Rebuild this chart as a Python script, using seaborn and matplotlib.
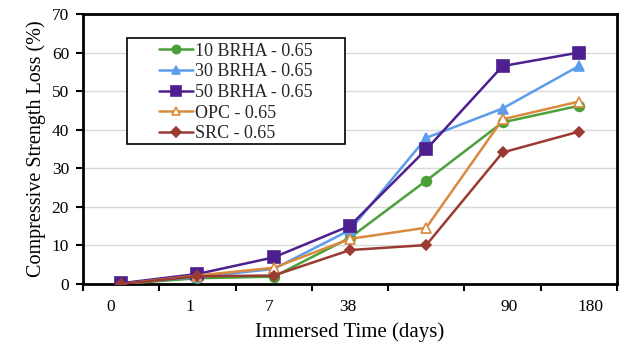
import matplotlib
matplotlib.use("Agg")
import matplotlib.pyplot as plt
import seaborn as sns
import pandas as pd
from matplotlib.patches import Rectangle

# ---- data ----
categories = ["0", "1", "7", "38", "56", "90", "180"]
tick_labels = ["0", "1", "7", "38", "", "90", "180"]
series_names = ["10 BRHA - 0.65", "30 BRHA - 0.65", "50 BRHA - 0.65", "OPC - 0.65", "SRC - 0.65"]
brha10 = [0.0, 1.5, 1.9, 12.0, 26.8, 41.9, 46.2]
brha30 = [0.2, 1.8, 3.9, 14.0, 37.9, 45.5, 56.5]
brha50 = [0.2, 2.6, 6.9, 15.1, 34.9, 56.5, 60.0]
opc = [0.0, 2.2, 4.2, 11.7, 14.6, 42.7, 47.3]
src = [0.0, 2.0, 2.2, 8.8, 10.1, 34.1, 39.5]

values = [brha10, brha30, brha50, opc, src]
colors = ["#4CA03A", "#5B9CEB", "#4E1F8E", "#D98A3D", "#9B3A33"]
markers = ["o", "^", "s", "^", "D"]
filled = [True, True, True, False, True]
msizes = [7, 7, 8, 7, 5.5]

rows = []
for name, vals in zip(series_names, values):
    for i, v in enumerate(vals):
        rows.append({"series": name, "pos": i, "loss": v})
df = pd.DataFrame(rows)

sns.set_theme(style="white")
plt.rcParams["font.family"] = ["Liberation Serif", "DejaVu Serif"]

fig = plt.figure(figsize=(6.29, 3.5), dpi=100)
ax = fig.add_axes([83 / 629, 1 - 284 / 350, (617 - 83) / 629, (284 - 14) / 350])

for name, c, m, f, ms in zip(series_names, colors, markers, filled, msizes):
    sub = df[df["series"] == name]
    sns.lineplot(data=sub, x="pos", y="loss", ax=ax, color=c, linewidth=1.8,
                 marker=m, markersize=ms, markeredgecolor=c,
                 markerfacecolor=(c if f else "white"), markeredgewidth=1.2,
                 label=name, zorder=3)

ax.set_xlim(-0.5, len(categories) - 0.5)
ax.set_ylim(0, 70)
ax.set_yticks(range(0, 71, 10))
ax.yaxis.grid(True, color="#D9D9D9", linewidth=1.0)
ax.set_axisbelow(True)

# category boundaries as major ticks, labels as minor ticks
ax.set_xticks([i - 0.5 for i in range(len(categories) + 1)])
ax.set_xticklabels([""] * (len(categories) + 1))
label_pos = [-0.14, 0.90, 1.94, 2.975, 4.03, 5.085, 6.15]
ax.set_xticks(label_pos, minor=True)
ax.set_xticklabels(tick_labels, minor=True)
ax.tick_params(axis="x", which="minor", length=0, pad=11, labelsize=12.5, colors="black")
ax.tick_params(axis="x", which="major", length=5, width=1.5, direction="out", bottom=True, color="black")
ax.tick_params(axis="y", length=5, width=1.5, direction="out", left=True, labelsize=12.5, colors="black", pad=5)

for s in ax.spines.values():
    s.set_color("black")
    s.set_linewidth(2.0)

ax.set_xlabel("Immersed Time (days)", fontsize=15, color="black", labelpad=5)
ax.set_ylabel("Compressive Strength Loss (%)", fontsize=14.5, color="black", labelpad=4)

# legend box
bx0 = (127 - 83) / 534
by1 = (284 - 38) / 270
bx1 = (345 - 83) / 534
by0 = (284 - 144) / 270
ax.add_patch(Rectangle((bx0, by0), bx1 - bx0, by1 - by0, transform=ax.transAxes,
                       facecolor="white", edgecolor="black", linewidth=1.2, zorder=4))
leg = ax.legend(loc="upper left", bbox_to_anchor=((159 - 83) / 534 - 0.024, by1 + 0.029),
                frameon=False, fontsize=13, handlelength=1.9, handletextpad=0.1,
                labelspacing=0.2, borderpad=0.2, markerscale=0.85)
leg.set_zorder(5)

fig.savefig("out.png", dpi=100)
